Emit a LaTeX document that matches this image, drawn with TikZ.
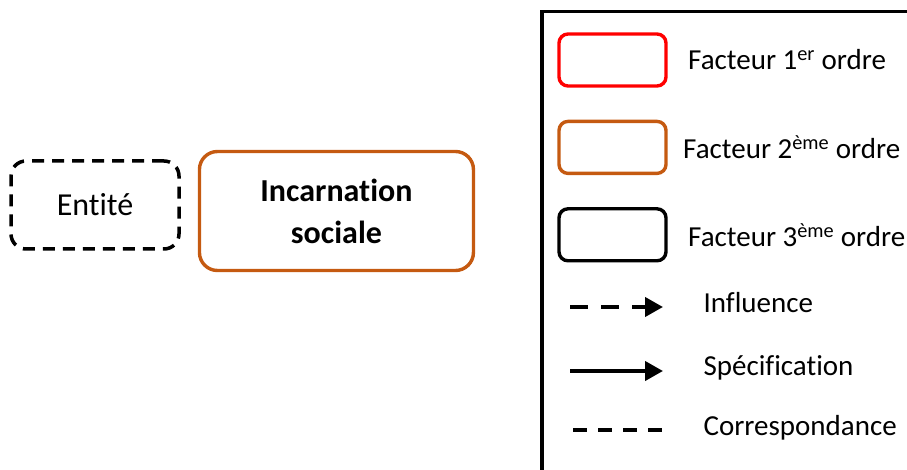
\documentclass[tikz,border=0pt]{standalone}
\usepackage{fontspec}
\setmainfont[Ligatures=NoCommon]{Carlito}
\usepackage{xcolor}
\usetikzlibrary{arrows.meta}
\usetikzlibrary{positioning}
\definecolor{ordreun}{HTML}{FF0000}
\definecolor{ordredeux}{HTML}{C55A11}

\begin{document}
\begin{tikzpicture}[
  x=1pt, y=-1pt,
  node distance=0mm,
  facteur/.style={draw, rounded corners=9pt, line width=3.4pt, minimum width=107pt, minimum height=52pt},
  legtext/.style={anchor=west, font=\fontsize{29}{32}\selectfont},
  legline/.style={line width=4pt},
  fleche/.style={-{Triangle[length=18pt, width=19pt]}}
]
\useasboundingbox (0,0) rectangle (907,470);

% diagram
\node[draw, dash pattern=on 12pt off 8pt, line width=3.5pt, rounded corners=15pt,
  minimum width=168pt, minimum height=88pt, font=\fontsize{32}{36}\selectfont] (entite) at (95,205) {Entité};
\node[draw=ordredeux, line width=3.4pt, rounded corners=18pt, minimum width=274pt, minimum height=119pt,
  align=center, font=\fontsize{32}{42}\selectfont\bfseries, right=17pt of entite.east, anchor=west, yshift=-6pt] (incarn) {Incarnation\\sociale};

% legend frame
\draw[line width=3.5pt] (542,470) -- (542,11.5) -- (907,11.5);

\node[facteur, draw=ordreun] (f1) at (612.5,60) {};
\node[facteur, draw=ordredeux, below=32pt of f1] (f2) {};
\node[facteur, draw=black, below=32pt of f2] (f3) {};

\node[legtext, right=17pt of f1] (t1) {Facteur 1\textsuperscript{er} ordre};
\node[legtext, right=12pt of f2] (t2) {Facteur 2\textsuperscript{ème} ordre};
\node[legtext, right=17pt of f3] (t3) {Facteur 3\textsuperscript{ème} ordre};

\coordinate (i1) at (570,307);
\coordinate (i2) at (663,307);
\coordinate (s1) at (570,371);
\coordinate (s2) at (663,371);
\coordinate (c1) at (573,430);
\coordinate (c2) at (663,430);

\draw[legline, fleche, dash pattern=on 18pt off 13pt] (i1) -- (i2);
\draw[legline, fleche] (s1) -- (s2);
\draw[legline, dash pattern=on 14pt off 11pt] (c1) -- (c2);

\node[legtext] (t4) at (700,303) {Influence};
\node[legtext] (t5) at (700,368) {Spécification};
\node[legtext] (t6) at (700,428) {Correspondance};
\end{tikzpicture}
\end{document}
